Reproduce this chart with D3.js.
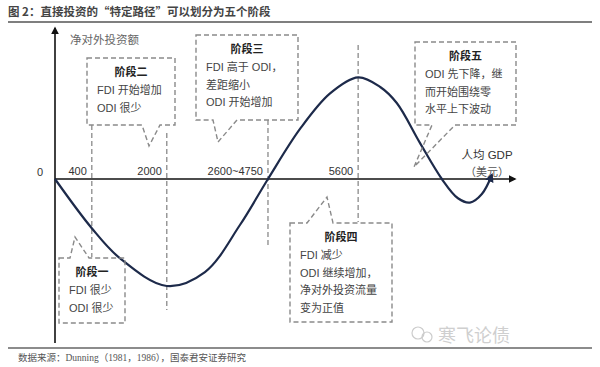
<html>
<head>
    <meta charset="UTF-8">
    <script src="https://d3js.org/d3.v7.min.js"></script>
    <title>直接投资的特定路径</title>
    <style>
        body { margin: 0; background: #fff; }
        text { font-family: "Liberation Sans", "Noto Sans CJK SC", sans-serif; fill: #333; }
    </style>
</head>
<body>
    <svg width="600" height="367"></svg>

    <script>
        // 曲线上读出来的点：x = 发展阶段位置(0-100)，y = 净对外投资额(相对值)
        const stageX = [0, 8.0, 14.1, 24.3, 32.6, 40.2, 46.3, 53.3, 59.8, 65.9, 70.7, 74.3, 79.3, 84.1, 87.6, 90.2, 92.8, 95.0];
        const netOutflow = [0, -0.46, -0.74, -1.0, -0.87, -0.43, 0, 0.47, 0.80, 0.95, 0.86, 0.71, 0.34, 0, -0.18, -0.22, -0.14, 0.04];

        // 人均GDP 分界线
        const tickPos = [8.0, 24.3, 46.3, 65.9];
        const tickLabels = ['400', '2000', '2600~4750', '5600'];

        const svg = d3.select('svg');

        const x = d3.scaleLinear().domain([0, 100]).range([55, 515]);
        const y = d3.scaleLinear().domain([-1, 1]).range([286, 72]);

        // 标题 + 上下横线
        svg.append('text').attr('x', 8).attr('y', 16)
            .style('font-family', '"Noto Sans CJK SC", sans-serif')
            .style('font-size', '11.5px').style('font-weight', 'bold').style('fill', '#444')
            .text('图 2：直接投资的“特定路径”可以划分为五个阶段');
        svg.append('line').attr('x1', 8).attr('x2', 592).attr('y1', 22).attr('y2', 22)
            .style('stroke', '#555').style('stroke-width', 1.6);
        svg.append('line').attr('x1', 8).attr('x2', 592).attr('y1', 348).attr('y2', 348)
            .style('stroke', '#666').style('stroke-width', 1.6);
        svg.append('text').attr('x', 18).attr('y', 361)
            .style('font-family', '"Liberation Serif", "Noto Sans CJK SC", serif')
            .style('font-size', '9.5px').style('fill', '#555')
            .text('数据来源：Dunning（1981，1986），国泰君安证券研究');

        // 箭头
        const defs = svg.append('defs');
        defs.append('marker').attr('id', 'arr').attr('viewBox', '0 0 10 10')
            .attr('refX', 8).attr('refY', 5).attr('markerWidth', 5).attr('markerHeight', 5)
            .attr('orient', 'auto')
            .append('path').attr('d', 'M0,0 L10,5 L0,10 z').style('fill', '#111');
        defs.append('marker').attr('id', 'arrC').attr('viewBox', '0 0 10 10')
            .attr('refX', 8).attr('refY', 5).attr('markerWidth', 4).attr('markerHeight', 4)
            .attr('orient', 'auto')
            .append('path').attr('d', 'M0,0 L10,5 L0,10 z').style('fill', '#1d2a4a');

        // 分界虚线
        const lineSpan = [[125, 257], [133, 310], [120, 245], [45, 222]];
        svg.selectAll('.stage')
            .data(tickPos)
            .join('line')
            .attr('class', 'stage')
            .attr('x1', d => x(d)).attr('x2', d => x(d))
            .attr('y1', (d, i) => lineSpan[i][0]).attr('y2', (d, i) => lineSpan[i][1])
            .style('stroke', '#8a8a8a').style('stroke-width', 1.3).style('stroke-dasharray', '5,3');

        svg.selectAll('.tick-lbl')
            .data(tickPos)
            .join('text')
            .attr('class', 'tick-lbl')
            .attr('x', d => x(d) - 5).attr('y', 175)
            .attr('text-anchor', 'end')
            .style('font-size', '11px')
            .text((d, i) => tickLabels[i]);

        // 坐标轴
        svg.append('line').attr('x1', 55).attr('x2', 55).attr('y1', 343).attr('y2', 28)
            .style('stroke', '#111').style('stroke-width', 1.6).attr('marker-end', 'url(#arr)');
        svg.append('line').attr('x1', 55).attr('x2', 515).attr('y1', y(0)).attr('y2', y(0))
            .style('stroke', '#111').style('stroke-width', 1.6).attr('marker-end', 'url(#arr)');
        svg.append('text').attr('x', 40).attr('y', y(0) - 3).attr('text-anchor', 'middle')
            .style('font-size', '11px').text('0');
        svg.append('text').attr('x', 70).attr('y', 44).style('font-size', '11.5px').style('fill', '#666')
            .text('净对外投资额');
        svg.append('text').attr('x', 487).attr('y', 159).attr('text-anchor', 'middle')
            .style('font-size', '11.5px').text('人均 GDP');
        svg.append('text').attr('x', 487).attr('y', 176).attr('text-anchor', 'middle')
            .style('font-size', '11px').style('fill', '#555').text('（美元）');

        // 曲线
        const pts = stageX.map((d, i) => [d, netOutflow[i]]);
        svg.append('path')
            .datum(pts)
            .attr('d', d3.line().x(d => x(d[0])).y(d => y(d[1])).curve(d3.curveCatmullRom))
            .style('fill', 'none').style('stroke', '#1d2a4a').style('stroke-width', 2.2)
            .attr('marker-end', 'url(#arrC)');

        // 阶段说明框
        const boxes = [
            { x0: 87, y0: 58, x1: 175, y1: 125, b1: 142, b2: 160, tx: 149, ty: 146, down: true,
              title: '阶段二', lines: ['FDI 开始增加', 'ODI 很少'] },
            { x0: 196, y0: 35, x1: 298, y1: 120, b1: 213, b2: 237, tx: 218, ty: 142, down: true,
              title: '阶段三', lines: ['FDI 高于 ODI，', '差距缩小', 'ODI 开始增加'] },
            { x0: 415, y0: 42, x1: 516, y1: 125, b1: 432, b2: 455, tx: 414, ty: 167, down: true,
              title: '阶段五', lines: ['ODI 先下降，继', '而开始围绕零', '水平上下波动'] },
            { x0: 59, y0: 258, x1: 125, y1: 323, b1: 70, b2: 89, tx: 75, ty: 237, down: false,
              title: '阶段一', lines: ['FDI 很少', 'ODI 很少'] },
            { x0: 290, y0: 223, x1: 392, y1: 322, b1: 307, b2: 333, tx: 327, ty: 197, down: false,
              title: '阶段四', lines: ['FDI 减少', 'ODI 继续增加，', '净对外投资流量', '变为正值'] }
        ];

        boxes.forEach(function (b) {
            let p;
            if (b.down) {
                p = `M${b.x0},${b.y0}H${b.x1}V${b.y1}H${b.b2}L${b.tx},${b.ty}L${b.b1},${b.y1}H${b.x0}Z`;
            } else {
                p = `M${b.x0},${b.y0}H${b.b1}L${b.tx},${b.ty}L${b.b2},${b.y0}H${b.x1}V${b.y1}H${b.x0}Z`;
            }
            svg.append('path').attr('d', p)
                .style('fill', 'none').style('stroke', '#8a8a8a').style('stroke-width', 1.4)
                .style('stroke-dasharray', '5,3');
            svg.append('text').attr('x', (b.x0 + b.x1) / 2).attr('y', b.y0 + 18)
                .attr('text-anchor', 'middle').style('font-size', '11px').style('font-weight', 'bold')
                .style('fill', '#222').text(b.title);
            b.lines.forEach(function (t, i) {
                svg.append('text').attr('x', b.x0 + 10).attr('y', b.y0 + 36 + i * 17.5)
                    .style('font-size', '11px').style('fill', '#444').text(t);
            });
        });

        // 水印
        svg.append('circle').attr('cx', 418).attr('cy', 333).attr('r', 6)
            .style('fill', 'none').style('stroke', '#ccc').style('stroke-width', 1.2);
        svg.append('circle').attr('cx', 427).attr('cy', 337).attr('r', 5)
            .style('fill', 'none').style('stroke', '#ccc').style('stroke-width', 1.2);
        svg.append('text').attr('x', 438).attr('y', 342)
            .style('font-size', '18px').style('fill', '#cfcfcf').text('寒飞论债');
    </script>
</body>
</html>
